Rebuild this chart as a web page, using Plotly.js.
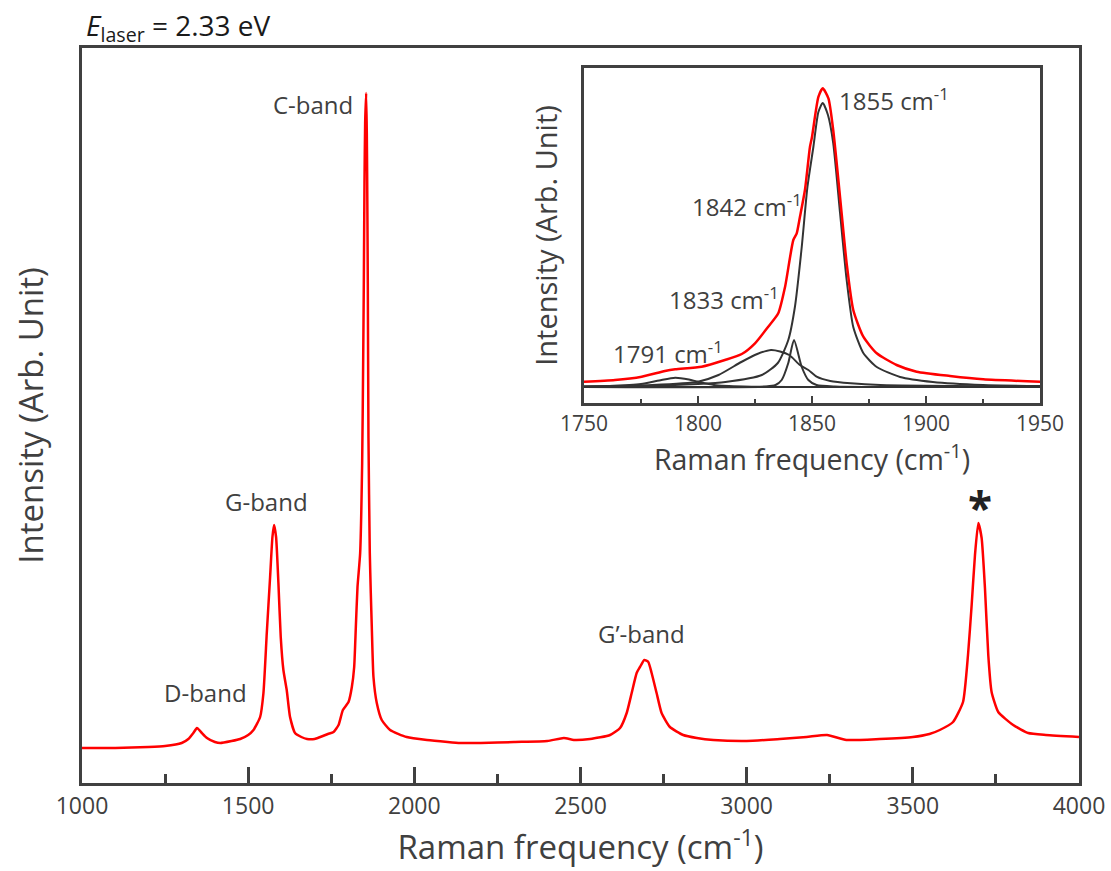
<!DOCTYPE html>
<html>
<head>
<meta charset="utf-8">
<script src="https://cdn.plot.ly/plotly-3.0.1.min.js"></script>
<style>html,body{margin:0;padding:0;background:#fff;}#chart{width:1111px;height:871px;}</style>
</head>
<body>
<div id="chart"></div>
<script>
// ---- Main spectrum (Raman shift, intensity arb.) ----
const mainShift = [1000,1100,1200,1250,1300,1320,1335,1346,1358,1376,1400,1416,1450,1476,1500,1516,1536,1546,1556,1566,1573,1578,1584,1591,1598,1606,1616,1626,1641,1660,1677,1700,1717,1740,1757,1772,1785,1802,1812,1819,1824,1829,1837,1843,1846,1848,1850,1852,1855,1857,1858,1860,1862,1866,1869,1872,1877,1887,1902,1927,1977,2038,2100,2138,2200,2300,2400,2450,2480,2529,2589,2619,2639,2654,2669,2679,2692,2704,2714,2729,2744,2769,2809,2850,2900,3000,3100,3180,3242,3300,3400,3500,3550,3581,3621,3651,3666,3677,3687,3697,3707,3717,3727,3737,3757,3802,3847,3900,4000];
const mainInt = [35,35,36,37,40,44,50,55,51,45,41,40,42,44,48,53,66,90,150,206,246,258,246,200,146,113,93,66,50,46,44,44,46,49,51,58,73,81,96,116,156,196,230,320,420,500,600,660,690,650,610,500,345,230,190,156,106,80,63,53,46,43,41,40,40,41,42,45,43,44,48,55,70,90,110,116,123,121,110,90,70,56,48,45,43,42,44,46,48,43,44,46,49,53,61,81,128,178,228,260,245,195,128,91,71,58,50,48,46];

// ---- Inset: C-band detail ----
const insetShift = [1750,1763.6,1775.3,1785.5,1790,1801.6,1811.8,1819.2,1825,1830.8,1835.2,1838.2,1841.8,1843.3,1844.7,1846.9,1849.1,1850,1852.8,1854.7,1857.2,1859.3,1862.3,1865.2,1868.1,1872.5,1878.4,1887.1,1895.9,1910.5,1925.1,1950];
const insetInt = [5.3,7,10.3,16,17.7,20.3,27,33,43.7,60.3,73.7,100.3,147,153.7,170,197,240,250,290,298.7,288.7,257,190,123.7,77,50.3,33.7,22,15.3,11,7.7,5.3];

const fit1855Shift = [1750,1775,1800,1812,1828,1835,1839.6,1842.5,1845.5,1848,1850.6,1852.8,1854.7,1857,1859.3,1862.3,1865.2,1868.1,1872.5,1878.4,1888.6,1903,1925,1950];
const fit1855Int = [0.5,1,3,5,12,24,47,80,140,200,240,275,284,272,244,174,107,60,34,20,10,5,2,1];

const fit1833Shift = [1750,1780,1800,1809,1819,1826,1832,1836,1840,1844.7,1848.4,1852,1858,1867,1880,1950];
const fit1833Int = [0.5,2,5.3,12,25,33,37,35.5,32,22,17,10.3,6,3.7,2,0.5];

const fit1842Shift = [1750,1830,1834,1836.7,1839.6,1842.1,1845.5,1848.4,1852,1860,1950];
const fit1842Int = [0,0.5,2,7,24,47,20,7,2,0.5,0];

const fit1791Shift = [1750,1761,1775,1783,1790,1796,1800,1807,1820,1950];
const fit1791Int = [0.3,1,3,6.5,9.3,7.5,5.3,2,0.5,0];

const baseShift = [1750,1950];
const baseInt = [0,0];

const mainTickVals = [1000,1500,2000,2500,3000,3500,4000];
const insetTickVals = [1750,1800,1850,1900,1950];

const FONT = 'Open Sans, Noto Sans, sans-serif';
const TXT = '#404040';
const FRAME = '#404040';
const RED = '#ff0000';
const DARK = '#333333';

const traces = [
  {x: mainShift, y: mainInt, type: 'scatter', mode: 'lines', line: {color: RED, width: 2.5, shape: 'spline', smoothing: 0.5}, xaxis: 'x', yaxis: 'y', hoverinfo: 'skip'},
  {x: baseShift, y: baseInt, type: 'scatter', mode: 'lines', line: {color: DARK, width: 2}, xaxis: 'x2', yaxis: 'y2'},
  {x: fit1791Shift, y: fit1791Int, type: 'scatter', mode: 'lines', line: {color: DARK, width: 2, shape: 'spline', smoothing: 0.6}, xaxis: 'x2', yaxis: 'y2'},
  {x: fit1833Shift, y: fit1833Int, type: 'scatter', mode: 'lines', line: {color: DARK, width: 2, shape: 'spline', smoothing: 0.6}, xaxis: 'x2', yaxis: 'y2'},
  {x: fit1842Shift, y: fit1842Int, type: 'scatter', mode: 'lines', line: {color: DARK, width: 2, shape: 'spline', smoothing: 0.6}, xaxis: 'x2', yaxis: 'y2'},
  {x: fit1855Shift, y: fit1855Int, type: 'scatter', mode: 'lines', line: {color: DARK, width: 2, shape: 'spline', smoothing: 0.6}, xaxis: 'x2', yaxis: 'y2'},
  {x: insetShift, y: insetInt, type: 'scatter', mode: 'lines', line: {color: RED, width: 2.5, shape: 'spline', smoothing: 0.6}, xaxis: 'x2', yaxis: 'y2'}
];

const bandFont = {family: FONT, size: 24, color: TXT};
const annotations = [
  {xref: 'paper', yref: 'paper', x: 0.002, y: 1.028, xanchor: 'left', yanchor: 'middle', showarrow: false,
   text: '<i>E</i><sub>laser</sub> = 2.33 eV', font: {family: FONT, size: 28, color: '#1a1a1a'}},
  {xref: 'x', yref: 'y', x: 1822, y: 679, xanchor: 'right', yanchor: 'middle', showarrow: false, text: 'C-band', font: bandFont},
  {xref: 'x', yref: 'y', x: 1554, y: 282, xanchor: 'center', yanchor: 'middle', showarrow: false, text: 'G-band', font: bandFont},
  {xref: 'x', yref: 'y', x: 1371, y: 91, xanchor: 'center', yanchor: 'middle', showarrow: false, text: 'D-band', font: bandFont},
  {xref: 'x', yref: 'y', x: 2685, y: 150, xanchor: 'center', yanchor: 'middle', showarrow: false, text: 'G\u2019-band', font: bandFont},
  {xref: 'x', yref: 'y', x: 3701, y: 276, xanchor: 'center', yanchor: 'middle', showarrow: false, text: '<b>*</b>', font: {family: FONT, size: 44, color: '#222'}},
  {xref: 'x2', yref: 'y2', x: 1861, y: 287, xanchor: 'left', yanchor: 'middle', showarrow: false, text: '1855 cm<sup>-1</sup>', font: bandFont},
  {xref: 'x2', yref: 'y2', x: 1796.5, y: 182, xanchor: 'left', yanchor: 'middle', showarrow: false, text: '1842 cm<sup>-1</sup>', font: bandFont},
  {xref: 'x2', yref: 'y2', x: 1786.4, y: 89, xanchor: 'left', yanchor: 'middle', showarrow: false, text: '1833 cm<sup>-1</sup>', font: bandFont},
  {xref: 'x2', yref: 'y2', x: 1761.8, y: 35, xanchor: 'left', yanchor: 'middle', showarrow: false, text: '1791 cm<sup>-1</sup>', font: bandFont}
];

const layout = {
  width: 1111, height: 871,
  margin: {l: 82, r: 32, t: 48, b: 88, pad: 0},
  paper_bgcolor: '#fff', plot_bgcolor: '#fff',
  showlegend: false,
  font: {family: FONT, color: TXT},
  xaxis: {
    domain: [0, 1], range: [1000, 4000], tickmode: 'array', tickvals: mainTickVals,
    ticks: 'inside', ticklen: 16, tickwidth: 3, tickcolor: FRAME,
    minor: {dtick: 250, tick0: 1000, ticks: 'inside', ticklen: 9, tickwidth: 3, tickcolor: FRAME},
    showline: true, linecolor: FRAME, linewidth: 3, mirror: true,
    showgrid: false, zeroline: false,
    tickfont: {family: FONT, size: 23, color: TXT},
    title: {text: 'Raman frequency (cm<sup>-1</sup>)', font: {family: FONT, size: 33, color: TXT}, standoff: 14}
  },
  yaxis: {
    domain: [0, 1], range: [0, 735], showticklabels: false, ticks: '',
    showline: true, linecolor: FRAME, linewidth: 3, mirror: true,
    showgrid: false, zeroline: false,
    title: {text: 'Intensity (Arb. Unit)', font: {family: FONT, size: 33, color: TXT}, standoff: 26}
  },
  xaxis2: {
    domain: [0.5035, 0.9609], anchor: 'y2', range: [1750, 1950], tickmode: 'array', tickvals: insetTickVals,
    ticks: 'inside', ticklen: 7, tickwidth: 2.5, tickcolor: FRAME,
    minor: {dtick: 25, tick0: 1750, ticks: 'inside', ticklen: 4, tickwidth: 2.5, tickcolor: FRAME},
    showline: true, linecolor: FRAME, linewidth: 2.5, mirror: true,
    showgrid: false, zeroline: false,
    tickfont: {family: FONT, size: 21, color: TXT},
    title: {text: 'Raman frequency (cm<sup>-1</sup>)', font: {family: FONT, size: 28.5, color: TXT}, standoff: 6}
  },
  yaxis2: {
    domain: [0.517, 0.9728], anchor: 'x2', range: [-16, 319], showticklabels: false, ticks: '',
    showline: true, linecolor: FRAME, linewidth: 2.5, mirror: true,
    showgrid: false, zeroline: false,
    title: {text: 'Intensity (Arb. Unit)', font: {family: FONT, size: 29, color: TXT}, standoff: 16}
  },
  annotations: annotations
};

Plotly.newPlot('chart', traces, layout, {displayModeBar: false, staticPlot: true});
</script>
</body>
</html>
